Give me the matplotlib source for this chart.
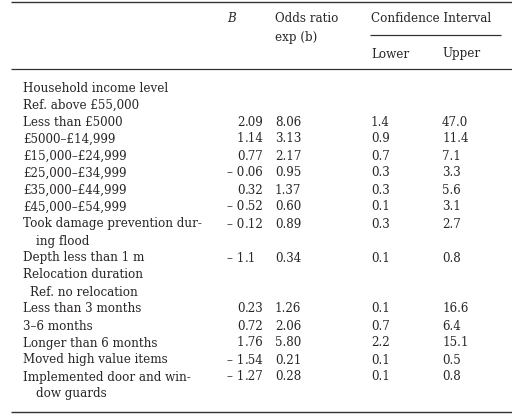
import matplotlib
matplotlib.use("Agg")
import matplotlib.pyplot as plt

# ── Table content ────────────────────────────────────────────────────────────
row_labels = [
    "Household income level",
    "Ref. above £55,000",
    "Less than £5000",
    "£5000–£14,999",
    "£15,000–£24,999",
    "£25,000–£34,999",
    "£35,000–£44,999",
    "£45,000–£54,999",
    "Took damage prevention dur-\ning flood",
    "Depth less than 1 m",
    "Relocation duration",
    "Ref. no relocation",
    "Less than 3 months",
    "3–6 months",
    "Longer than 6 months",
    "Moved high value items",
    "Implemented door and win-\ndow guards",
]
row_indent = [0, 0, 0, 0, 0, 0, 0, 0, 0, 0, 0, 7, 0, 0, 0, 0, 0]
b_coef = ["", "", "2.09", "1.14", "0.77", "– 0.06", "0.32", "– 0.52",
          "– 0.12", "– 1.1", "", "", "0.23", "0.72", "1.76", "– 1.54", "– 1.27"]
odds_ratio = ["", "", "8.06", "3.13", "2.17", "0.95", "1.37", "0.60",
              "0.89", "0.34", "", "", "1.26", "2.06", "5.80", "0.21", "0.28"]
ci_lower = ["", "", "1.4", "0.9", "0.7", "0.3", "0.3", "0.1",
            "0.3", "0.1", "", "", "0.1", "0.7", "2.2", "0.1", "0.1"]
ci_upper = ["", "", "47.0", "11.4", "7.1", "3.3", "5.6", "3.1",
            "2.7", "0.8", "", "", "16.6", "6.4", "15.1", "0.5", "0.8"]

# ── Layout (pixel coordinates) ───────────────────────────────────────────────
TEXT = "#2a2627"
FONT = "DejaVu Serif"
FS = 8.6
X_LABEL = 23
X_WRAP = 36
X_B_DEC = 244.5
X_OR = 275
X_LOW = 371
X_UP = 442
Y0 = 87
DY = 17
BASE = 4.5  # centre-to-baseline offset

fig = plt.figure(figsize=(5.12, 4.2), dpi=100)
ax = fig.add_axes([0, 0, 1, 1])
ax.set_xlim(0, 512)
ax.set_ylim(420, 0)
ax.axis("off")

kw = dict(color=TEXT, family=FONT, fontsize=FS, va="baseline")

# header
ax.text(227, 17 + BASE, "B", style="italic", **kw)
ax.text(X_OR, 17 + BASE, "Odds ratio", **kw)
ax.text(X_OR, 36 + BASE, "exp (b)", **kw)
ax.text(X_LOW, 17 + BASE, "Confidence Interval", **kw)
ax.text(X_LOW, 53 + BASE, "Lower", **kw)
ax.text(X_UP, 53 + BASE, "Upper", **kw)

# rules
ax.hlines(2, 11, 512, color="#333333", lw=1.0)
ax.hlines(34.5, 370, 501, color="#333333", lw=0.9)
ax.hlines(69, 11, 512, color="#333333", lw=0.9)
ax.hlines(412, 11, 512, color="#333333", lw=1.0)

# body
line = 0
for i, label in enumerate(row_labels):
    y = Y0 + line * DY + BASE
    parts = label.split("\n")
    for j, part in enumerate(parts):
        x = X_LABEL + row_indent[i] if j == 0 else X_WRAP
        ax.text(x, y + j * DY, part, **kw)
    if b_coef[i]:
        whole, frac = b_coef[i].split(".")
        ax.text(X_B_DEC, y, whole, ha="right", **kw)
        ax.text(X_B_DEC, y, "." + frac, ha="left", **kw)
    ax.text(X_OR, y, odds_ratio[i], **kw)
    ax.text(X_LOW, y, ci_lower[i], **kw)
    ax.text(X_UP, y, ci_upper[i], **kw)
    line += len(parts)

fig.savefig("out.png", dpi=100)
